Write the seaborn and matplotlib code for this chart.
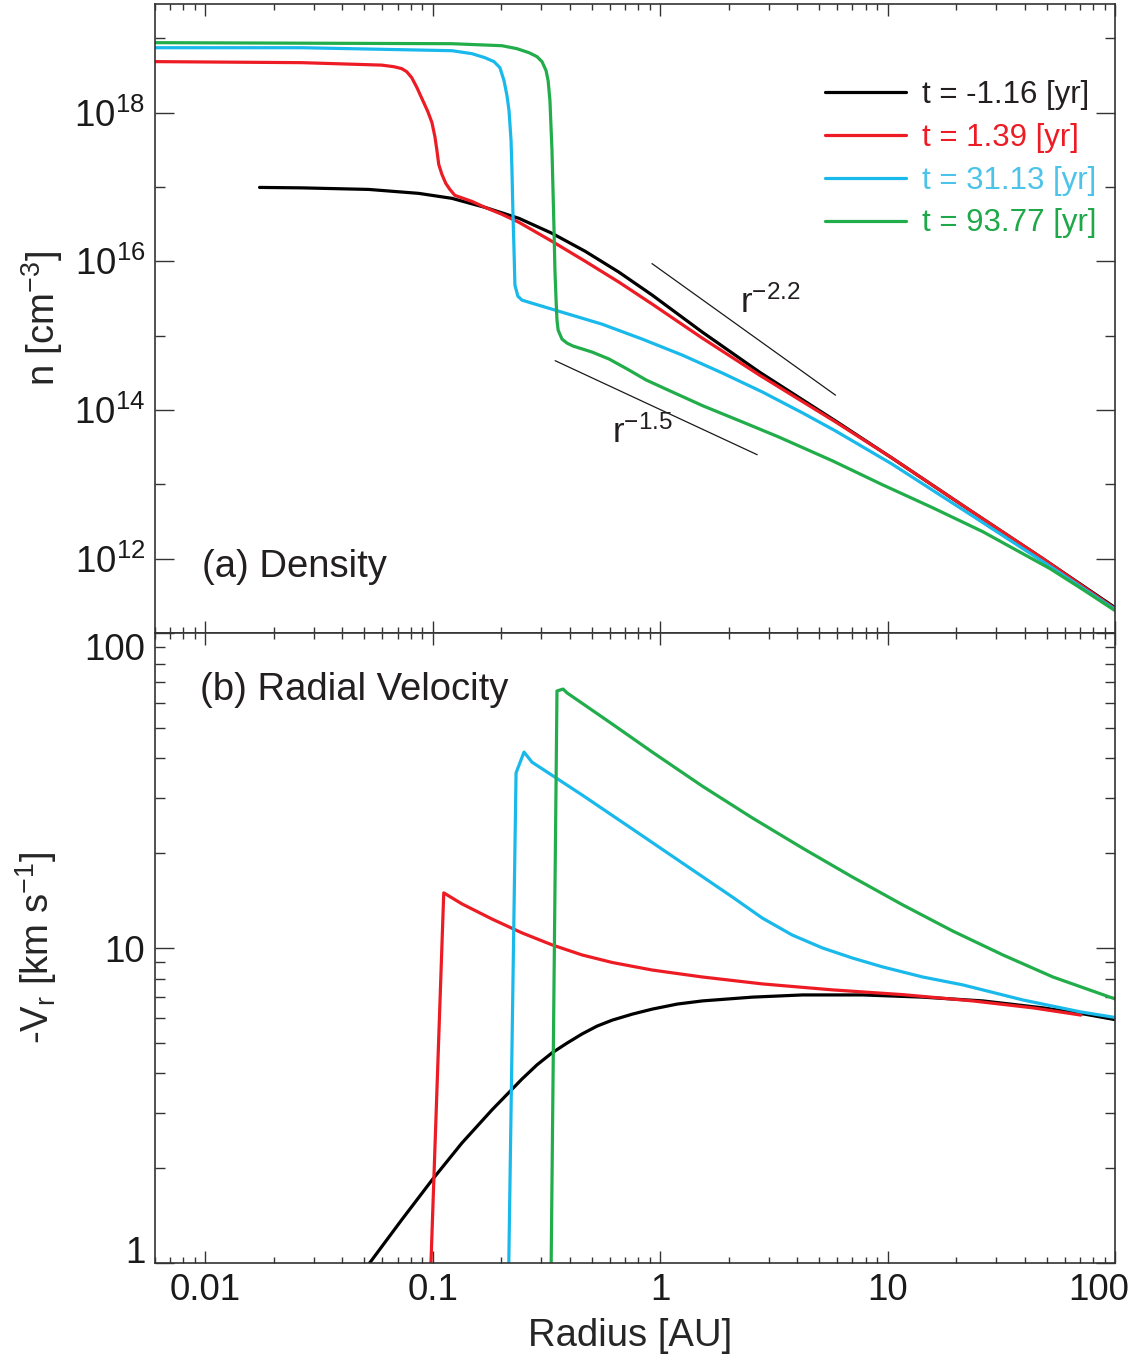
import numpy as np
import pandas as pd
import seaborn as sns
import matplotlib.pyplot as plt
from matplotlib.lines import Line2D
from matplotlib.ticker import FixedLocator, LogLocator, NullFormatter
from matplotlib.transforms import ScaledTranslation

labels = ['t = -1.16 [yr]', 't = 1.39 [yr]', 't = 31.13 [yr]', 't = 93.77 [yr]']
line_colors = ['#000000', '#ED1C24', '#1AB9EC', '#22AD4B']
text_colors = ['#231F20', '#ED1C24', '#4CC3E8', '#1FA84A']

# (a) density: log10 radius [AU] and log10 n [cm^-3]
logr_n_black = [-1.762, -1.577, -1.282, -1.062, -0.916, -0.771, -0.621, -0.476, -0.330,
                -0.181, -0.035, 0.185, 0.436, 0.771, 1.018, 1.352, 1.683, 2.013]
logn_black = [16.993, 16.987, 16.966, 16.913, 16.846, 16.725, 16.577, 16.376, 16.134,
              15.852, 15.544, 15.047, 14.510, 13.852, 13.356, 12.671, 12.0, 11.315]

logr_n_red = [-2.22, -1.577, -1.225, -1.172, -1.137, -1.115, -1.093, -1.070, -1.044,
              -1.022, -1.004, -0.991, -0.982, -0.974, -0.960, -0.943, -0.925, -0.903,
              -0.828, -0.771, -0.696, -0.621, -0.476, -0.330, -0.181, -0.035, 0.185,
              0.436, 0.771, 1.018, 1.352, 1.683, 2.013]
logn_red = [18.685, 18.671, 18.638, 18.617, 18.591, 18.550, 18.470, 18.336, 18.161,
            18.013, 17.866, 17.678, 17.490, 17.302, 17.168, 17.047, 16.966, 16.886,
            16.805, 16.725, 16.631, 16.523, 16.268, 16.0, 15.718, 15.423, 14.966,
            14.470, 13.839, 13.356, 12.671, 12.0, 11.30]

logr_n_cyan = [-2.22, -1.577, -0.916, -0.828, -0.771, -0.731, -0.705, -0.687, -0.674,
               -0.665, -0.656, -0.652, -0.648, -0.643, -0.639, -0.626, -0.608, -0.564,
               -0.432, -0.256, -0.079, 0.097, 0.273, 0.449, 0.626, 0.771, 1.018,
               1.352, 1.683, 2.013]
logn_cyan = [18.872, 18.872, 18.832, 18.792, 18.738, 18.685, 18.604, 18.430, 18.228,
             18.027, 17.624, 17.221, 16.685, 16.148, 15.678, 15.530, 15.477, 15.436,
             15.315, 15.154, 14.953, 14.738, 14.497, 14.242, 13.960, 13.718, 13.275,
             12.617, 11.960, 11.289]

logr_n_green = [-2.22, -0.916, -0.696, -0.630, -0.577, -0.542, -0.520, -0.502, -0.493,
                -0.485, -0.476, -0.467, -0.463, -0.458, -0.454, -0.449, -0.432, -0.410,
                -0.383, -0.300, -0.225, -0.145, -0.062, 0.053, 0.189, 0.361, 0.520,
                0.758, 0.978, 1.198, 1.419, 1.714, 1.859, 2.013]
logn_green = [18.940, 18.926, 18.899, 18.859, 18.805, 18.752, 18.685, 18.564, 18.430,
              18.161, 17.490, 16.416, 15.879, 15.477, 15.208, 15.074, 14.953, 14.899,
              14.859, 14.779, 14.685, 14.550, 14.403, 14.242, 14.054, 13.839, 13.638,
              13.315, 12.993, 12.685, 12.362, 11.866, 11.584, 11.275]

# power-law guides (end points)
guide22_r = [0.92, 5.9]
guide22_n = [9.3e15, 1.58e14]
guide15_r = [0.345, 2.67]
guide15_n = [4.6e14, 2.5e13]

# (b) radial velocity: log10 radius [AU] and log10 -Vr [km/s]
logr_v_black = [-1.313, -1.278, -1.137, -1.004, -0.872, -0.740, -0.608, -0.542, -0.476,
                -0.410, -0.344, -0.278, -0.211, -0.123, -0.035, 0.075, 0.185, 0.405,
                0.626, 0.890, 1.154, 1.419, 1.683, 1.859, 2.013]
logv_black = [-0.035, 0.0, 0.137, 0.263, 0.381, 0.486, 0.584, 0.629, 0.667,
              0.698, 0.727, 0.752, 0.771, 0.790, 0.806, 0.822, 0.832, 0.844,
              0.851, 0.851, 0.844, 0.832, 0.810, 0.791, 0.771]

logr_v_red = [-1.013, -0.952, -0.872, -0.740, -0.608, -0.476, -0.344, -0.211, -0.035,
              0.185, 0.449, 0.758, 1.066, 1.374, 1.639, 1.850]
logv_red = [-0.1, 1.175, 1.140, 1.092, 1.048, 1.010, 0.978, 0.954, 0.930,
            0.908, 0.886, 0.867, 0.852, 0.832, 0.810, 0.787]

logr_v_cyan = [-0.668, -0.634, -0.599, -0.564, -0.344, -0.123, 0.097, 0.317, 0.449,
               0.581, 0.714, 0.846, 0.978, 1.154, 1.330, 1.595, 1.850, 2.013]
logv_cyan = [-0.1, 1.556, 1.622, 1.590, 1.486, 1.378, 1.270, 1.162, 1.095,
             1.041, 1.0, 0.968, 0.940, 0.908, 0.883, 0.835, 0.797, 0.778]

logr_v_green = [-0.481, -0.454, -0.427, -0.410, -0.211, -0.035, 0.185, 0.405, 0.626,
                0.846, 1.066, 1.286, 1.507, 1.727, 2.013]
logv_green = [-0.1, 1.816, 1.822, 1.810, 1.711, 1.622, 1.514, 1.413, 1.317,
              1.225, 1.137, 1.054, 0.978, 0.908, 0.835]

dens = [(logr_n_black, logn_black), (logr_n_red, logn_red),
        (logr_n_cyan, logn_cyan), (logr_n_green, logn_green)]
vel = [(logr_v_black, logv_black), (logr_v_red, logv_red),
       (logr_v_cyan, logv_cyan), (logr_v_green, logv_green)]

sns.set_theme(style='ticks')
plt.rcParams['font.family'] = ['Liberation Sans', 'DejaVu Sans']
plt.rcParams['mathtext.fontset'] = 'custom'
plt.rcParams['mathtext.rm'] = 'Liberation Sans'
plt.rcParams['mathtext.it'] = 'Liberation Sans:italic'
plt.rcParams['mathtext.bf'] = 'Liberation Sans:bold'
plt.rcParams['text.color'] = '#231F20'

W, H = 1141, 1363
fig = plt.figure(figsize=(W / 100, H / 100), dpi=100)
ax1 = fig.add_axes([155 / W, 1 - 633 / H, 960 / W, 629 / H])
ax2 = fig.add_axes([155 / W, 1 - 1263 / H, 960 / W, 630 / H])

for ax in (ax1, ax2):
    ax.set_xscale('log')
    ax.set_yscale('log')

for (lr, ln), c in zip(dens, line_colors):
    d = pd.DataFrame({'r': 10 ** np.array(lr), 'n': 10 ** np.array(ln)})
    sns.lineplot(data=d, x='r', y='n', color=c, lw=2.3, sort=False, estimator=None, ax=ax1)

for (lr, lv), c in zip(vel, line_colors):
    d = pd.DataFrame({'r': 10 ** np.array(lr), 'v': 10 ** np.array(lv)})
    sns.lineplot(data=d, x='r', y='v', color=c, lw=2.3, sort=False, estimator=None, ax=ax2)

sns.lineplot(x=guide22_r, y=guide22_n, color='k', lw=0.9, ax=ax1)
sns.lineplot(x=guide15_r, y=guide15_n, color='k', lw=0.9, ax=ax1)
ax1.text(2.25, 10 ** 15.31, r'r$^{-2.2}$', fontsize=25, ha='left', va='baseline')
ax1.text(0.615, 10 ** 13.56, r'r$^{-1.5}$', fontsize=25, ha='left', va='baseline')

# axes styling
for ax in (ax1, ax2):
    ax.set_xlim(0.006, 100)
    ax.xaxis.set_major_locator(FixedLocator([0.01, 0.1, 1, 10, 100]))
    ax.xaxis.set_minor_locator(LogLocator(base=10, subs=np.arange(2, 10), numticks=20))
    ax.xaxis.set_minor_formatter(NullFormatter())
    ax.tick_params(which='both', direction='in', top=True, right=True,
                   colors='#333333', labelcolor='#1a1a1a', labelsize=26.5, width=1.0)
    ax.tick_params(axis='x', which='major', length=8.6, pad=7)
    ax.tick_params(axis='x', which='minor', length=4.3)
    ax.tick_params(axis='y', which='major', length=13.7, pad=7)
    ax.tick_params(axis='y', which='minor', length=7.2)
    for s in ax.spines.values():
        s.set_color('#333333')
        s.set_linewidth(1.2)
    ax.set_xlabel('')
    ax.set_ylabel('')

ax1.set_ylim(1e11, 10 ** 19.46)
ax1.set_yticks([1e12, 1e14, 1e16, 1e18],
               labels=[r'$10^{12}$', r'$10^{14}$', r'$10^{16}$', r'$10^{18}$'])
ax1.yaxis.set_minor_locator(FixedLocator([1e11, 1e13, 1e15, 1e17, 1e19]))
ax1.yaxis.set_minor_formatter(NullFormatter())
ax1.tick_params(axis='x', labelbottom=False)

ax2.set_ylim(1, 100)
ax2.set_yticks([1, 10, 100], labels=['1', '10', '100'])
ax2.yaxis.set_minor_locator(LogLocator(base=10, subs=np.arange(2, 10), numticks=20))
ax2.yaxis.set_minor_formatter(NullFormatter())
ax2.set_xticks([0.01, 0.1, 1, 10, 100], labels=['0.01', '0.1', '1', '10', '100'])
ylab = ax2.get_yticklabels()
ylab[0].set_va('baseline')
ylab[2].set_va('top')
xlab = ax2.get_xticklabels()
xlab[-1].set_transform(xlab[-1].get_transform() + ScaledTranslation(-0.16, 0, fig.dpi_scale_trans))

ax1.set_ylabel(r'n [cm$^{-3}$]', fontsize=27.5)
ax1.yaxis.set_label_coords(-0.094, 0.5)
ax2.set_ylabel(r'-V$_\mathrm{r}$ [km s$^{-1}$]', fontsize=27.5)
ax2.yaxis.set_label_coords(-0.1, 0.5)
ax2.set_xlabel('Radius [AU]', fontsize=27.5)
ax2.xaxis.set_label_coords(0.495, -0.088)

ax1.text(0.049, 0.105, '(a) Density', transform=ax1.transAxes, fontsize=27.5,
         ha='left', va='center')
ax2.text(0.047, 0.9095, '(b) Radial Velocity', transform=ax2.transAxes, fontsize=27.5,
         ha='left', va='center')

handles = [Line2D([], [], color=c, lw=2.3) for c in line_colors]
ax1.legend(handles, labels, loc='upper left',
           bbox_to_anchor=((825 - 155) / 960, 1 - (80 - 4) / 629),
           frameon=False, fontsize=22.5, handlelength=2.6, handletextpad=0.5,
           labelspacing=0.41, borderpad=0, borderaxespad=0, labelcolor=text_colors)

fig.savefig('out.png', dpi=100)
